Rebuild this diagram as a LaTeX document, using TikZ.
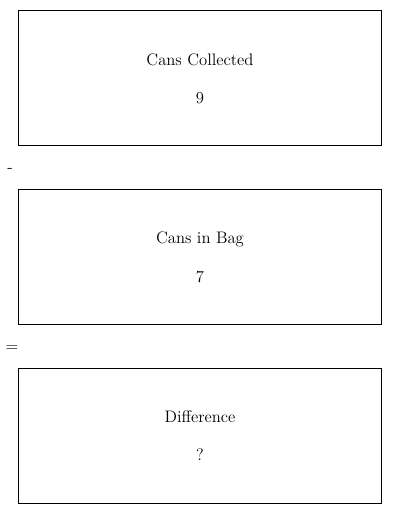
\documentclass[tikz,border=0pt]{standalone}
\begin{document}
\begin{tikzpicture}[x=0.75pt,y=-0.75pt,
  box/.style={draw=black,line width=0.75pt},
  lbl/.style={font=\fontsize{12.5}{15}\selectfont,inner sep=0pt,anchor=center}]
\useasboundingbox (0,0) rectangle (400,514);
\draw[box] (18.5,10.5) rectangle (381.5,145.5);
\node[lbl] (t1) at (200,60) {Cans Collected};
\node[lbl] (v1) at (200,98) {9};
\node[lbl] (minus) at (10,170) {-};
\draw[box] (18.5,189.5) rectangle (381.5,324.5);
\node[lbl] (t2) at (200,239) {Cans in Bag};
\node[lbl] (v2) at (200,277) {7};
\node[lbl] (eq) at (12,348) {=};
\draw[box] (18.5,368.5) rectangle (381.5,503.5);
\node[lbl] (t3) at (200,417) {Difference};
\node[lbl] (v3) at (200,455) {?};
\end{tikzpicture}
\end{document}
